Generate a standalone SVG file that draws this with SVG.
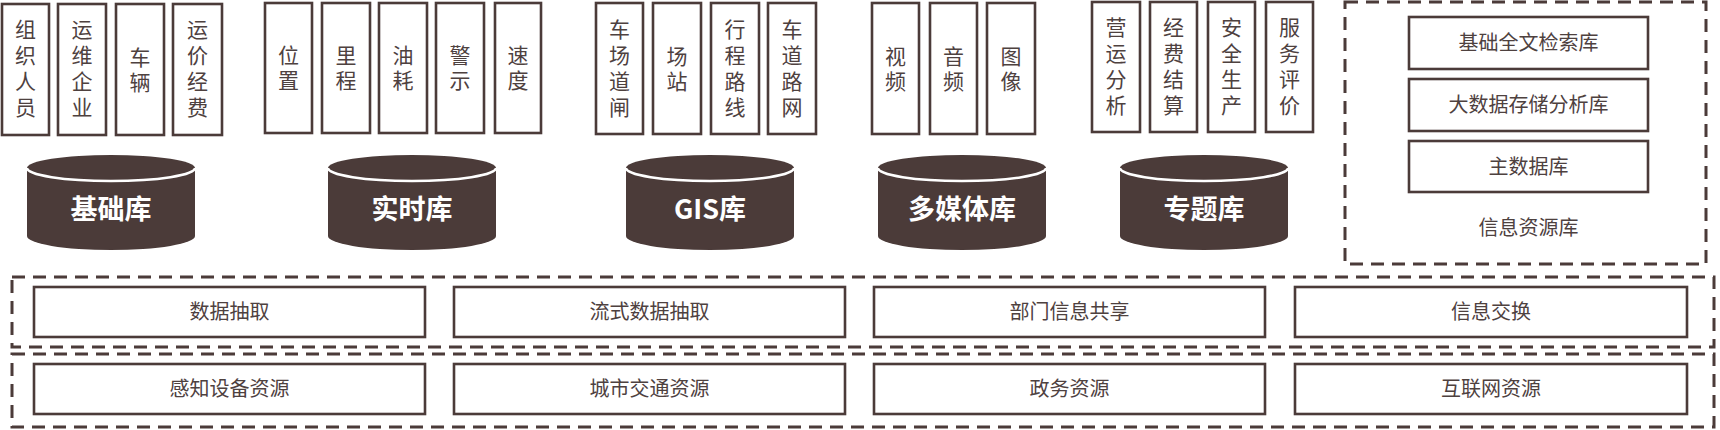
<svg xmlns="http://www.w3.org/2000/svg" width="1720" height="430" viewBox="0 0 1720 430">
<style>
  .bx{fill:#fff;stroke:#4b3b39;stroke-width:2.6}
  .dash{fill:none;stroke:#4b3b39;stroke-width:3;stroke-dasharray:13 8}
  .vt{font-family:"Liberation Sans","Noto Sans CJK SC",sans-serif;font-size:21px;fill:#4e413f;text-anchor:middle}
  .ht{font-family:"Noto Sans CJK SC","Noto Sans",sans-serif;font-size:20px;fill:#4e413f;text-anchor:middle}
  .cyl{fill:#4b3b39}
  .arc{fill:none;stroke:#fff;stroke-width:2.6}
  .ct{font-family:"Noto Sans CJK SC","Noto Sans",sans-serif;font-size:27px;font-weight:700;fill:#fff;text-anchor:middle}
</style>
<rect width="1720" height="430" fill="#fff"/>

<!-- Group 1: 基础库 -->
<g id="g1-items">
  <g id="n-zzry"><rect class="bx" x="2" y="4" width="47" height="131"/><text class="vt"><tspan x="25.5" y="37">组</tspan><tspan x="25.5" y="63">织</tspan><tspan x="25.5" y="89">人</tspan><tspan x="25.5" y="115">员</tspan></text></g>
  <g id="n-ywqy"><rect class="bx" x="58" y="4" width="48" height="131"/><text class="vt"><tspan x="82" y="37">运</tspan><tspan x="82" y="63">维</tspan><tspan x="82" y="89">企</tspan><tspan x="82" y="115">业</tspan></text></g>
  <g id="n-cl"><rect class="bx" x="116" y="4" width="48" height="131"/><text class="vt"><tspan x="140" y="65">车</tspan><tspan x="140" y="90">辆</tspan></text></g>
  <g id="n-yjjf"><rect class="bx" x="173" y="4" width="49" height="131"/><text class="vt"><tspan x="197.5" y="37">运</tspan><tspan x="197.5" y="63">价</tspan><tspan x="197.5" y="89">经</tspan><tspan x="197.5" y="115">费</tspan></text></g>
</g>
<g id="cyl-jck">
  <path class="cyl" d="M27,168 L27,236 A84,14 0 0 0 195,236 L195,168 Z"/>
  <ellipse class="cyl" cx="111" cy="168" rx="84" ry="13"/>
  <path class="arc" d="M27,168 A84,13 0 0 0 195,168"/>
  <text class="ct" x="111" y="219">基础库</text>
</g>

<!-- Group 2: 实时库 -->
<g id="g2-items">
  <g id="n-wz"><rect class="bx" x="265" y="3" width="47" height="130"/><text class="vt"><tspan x="288.5" y="63">位</tspan><tspan x="288.5" y="88">置</tspan></text></g>
  <g id="n-lc"><rect class="bx" x="322" y="3" width="48" height="130"/><text class="vt"><tspan x="346" y="63">里</tspan><tspan x="346" y="88">程</tspan></text></g>
  <g id="n-yh"><rect class="bx" x="379" y="3" width="48" height="130"/><text class="vt"><tspan x="403" y="63">油</tspan><tspan x="403" y="88">耗</tspan></text></g>
  <g id="n-js"><rect class="bx" x="436" y="3" width="48" height="130"/><text class="vt"><tspan x="460" y="63">警</tspan><tspan x="460" y="88">示</tspan></text></g>
  <g id="n-sd"><rect class="bx" x="495" y="3" width="46" height="130"/><text class="vt"><tspan x="518" y="63">速</tspan><tspan x="518" y="88">度</tspan></text></g>
</g>
<g id="cyl-ssk">
  <path class="cyl" d="M328,168 L328,236 A84,14 0 0 0 496,236 L496,168 Z"/>
  <ellipse class="cyl" cx="412" cy="168" rx="84" ry="13"/>
  <path class="arc" d="M328,168 A84,13 0 0 0 496,168"/>
  <text class="ct" x="412" y="219">实时库</text>
</g>

<!-- Group 3: GIS库 -->
<g id="g3-items">
  <g id="n-ccdz"><rect class="bx" x="596" y="3" width="47" height="131"/><text class="vt"><tspan x="619.5" y="37">车</tspan><tspan x="619.5" y="63">场</tspan><tspan x="619.5" y="89">道</tspan><tspan x="619.5" y="115">闸</tspan></text></g>
  <g id="n-cz"><rect class="bx" x="653" y="3" width="48" height="131"/><text class="vt"><tspan x="677" y="64">场</tspan><tspan x="677" y="89">站</tspan></text></g>
  <g id="n-xclx"><rect class="bx" x="711" y="3" width="48" height="131"/><text class="vt"><tspan x="735" y="37">行</tspan><tspan x="735" y="63">程</tspan><tspan x="735" y="89">路</tspan><tspan x="735" y="115">线</tspan></text></g>
  <g id="n-cdlw"><rect class="bx" x="768" y="3" width="48" height="131"/><text class="vt"><tspan x="792" y="37">车</tspan><tspan x="792" y="63">道</tspan><tspan x="792" y="89">路</tspan><tspan x="792" y="115">网</tspan></text></g>
</g>
<g id="cyl-gis">
  <path class="cyl" d="M626,168 L626,236 A84,14 0 0 0 794,236 L794,168 Z"/>
  <ellipse class="cyl" cx="710" cy="168" rx="84" ry="13"/>
  <path class="arc" d="M626,168 A84,13 0 0 0 794,168"/>
  <text class="ct" x="710" y="219">GIS库</text>
</g>

<!-- Group 4: 多媒体库 -->
<g id="g4-items">
  <g id="n-sp"><rect class="bx" x="872" y="3" width="47" height="131"/><text class="vt"><tspan x="895.5" y="64">视</tspan><tspan x="895.5" y="89">频</tspan></text></g>
  <g id="n-yp"><rect class="bx" x="930" y="3" width="47" height="131"/><text class="vt"><tspan x="953.5" y="64">音</tspan><tspan x="953.5" y="89">频</tspan></text></g>
  <g id="n-tx"><rect class="bx" x="987" y="3" width="48" height="131"/><text class="vt"><tspan x="1011" y="64">图</tspan><tspan x="1011" y="89">像</tspan></text></g>
</g>
<g id="cyl-dmt">
  <path class="cyl" d="M878,168 L878,236 A84,14 0 0 0 1046,236 L1046,168 Z"/>
  <ellipse class="cyl" cx="962" cy="168" rx="84" ry="13"/>
  <path class="arc" d="M878,168 A84,13 0 0 0 1046,168"/>
  <text class="ct" x="962" y="219">多媒体库</text>
</g>

<!-- Group 5: 专题库 -->
<g id="g5-items">
  <g id="n-yyfx"><rect class="bx" x="1092" y="2" width="48" height="130"/><text class="vt"><tspan x="1116" y="35">营</tspan><tspan x="1116" y="61">运</tspan><tspan x="1116" y="87">分</tspan><tspan x="1116" y="113">析</tspan></text></g>
  <g id="n-jfjs"><rect class="bx" x="1150" y="2" width="47" height="130"/><text class="vt"><tspan x="1173.5" y="35">经</tspan><tspan x="1173.5" y="61">费</tspan><tspan x="1173.5" y="87">结</tspan><tspan x="1173.5" y="113">算</tspan></text></g>
  <g id="n-aqsc"><rect class="bx" x="1208" y="2" width="47" height="130"/><text class="vt"><tspan x="1231.5" y="35">安</tspan><tspan x="1231.5" y="61">全</tspan><tspan x="1231.5" y="87">生</tspan><tspan x="1231.5" y="113">产</tspan></text></g>
  <g id="n-fwpj"><rect class="bx" x="1266" y="2" width="47" height="130"/><text class="vt"><tspan x="1289.5" y="35">服</tspan><tspan x="1289.5" y="61">务</tspan><tspan x="1289.5" y="87">评</tspan><tspan x="1289.5" y="113">价</tspan></text></g>
</g>
<g id="cyl-ztk">
  <path class="cyl" d="M1120,168 L1120,236 A84,14 0 0 0 1288,236 L1288,168 Z"/>
  <ellipse class="cyl" cx="1204" cy="168" rx="84" ry="13"/>
  <path class="arc" d="M1120,168 A84,13 0 0 0 1288,168"/>
  <text class="ct" x="1204" y="219">专题库</text>
</g>

<!-- 信息资源库 -->
<g id="xxzyk">
  <rect class="dash" x="1345" y="2" width="361" height="262"/>
  <g id="n-jcqwjsk"><rect class="bx" x="1409" y="17" width="239" height="52"/><text class="ht" x="1528.5" y="50">基础全文检索库</text></g>
  <g id="n-dsjccfxk"><rect class="bx" x="1409" y="79" width="239" height="52"/><text class="ht" x="1528.5" y="112">大数据存储分析库</text></g>
  <g id="n-zsjk"><rect class="bx" x="1409" y="141" width="239" height="51"/><text class="ht" x="1528.5" y="174">主数据库</text></g>
  <text class="ht" x="1528.5" y="235">信息资源库</text>
</g>

<!-- Row 1 -->
<g id="row1">
  <rect class="dash" x="12" y="277" width="1702" height="70"/>
  <g id="n-sjcq"><rect class="bx" x="34" y="287" width="391" height="50"/><text class="ht" x="229.5" y="319">数据抽取</text></g>
  <g id="n-lssjcq"><rect class="bx" x="454" y="287" width="391" height="50"/><text class="ht" x="649.5" y="319">流式数据抽取</text></g>
  <g id="n-bmxxgx"><rect class="bx" x="874" y="287" width="391" height="50"/><text class="ht" x="1069.5" y="319">部门信息共享</text></g>
  <g id="n-xxjh"><rect class="bx" x="1295" y="287" width="392" height="50"/><text class="ht" x="1491" y="319">信息交换</text></g>
</g>

<!-- Row 2 -->
<g id="row2">
  <rect class="dash" x="12" y="354" width="1702" height="73"/>
  <g id="n-gzsbzy"><rect class="bx" x="34" y="364" width="391" height="50"/><text class="ht" x="229.5" y="396">感知设备资源</text></g>
  <g id="n-csjtzy"><rect class="bx" x="454" y="364" width="391" height="50"/><text class="ht" x="649.5" y="396">城市交通资源</text></g>
  <g id="n-zwzy"><rect class="bx" x="874" y="364" width="391" height="50"/><text class="ht" x="1069.5" y="396">政务资源</text></g>
  <g id="n-hlwzy"><rect class="bx" x="1295" y="364" width="392" height="50"/><text class="ht" x="1491" y="396">互联网资源</text></g>
</g>

<g id="connectors"></g>
</svg>
